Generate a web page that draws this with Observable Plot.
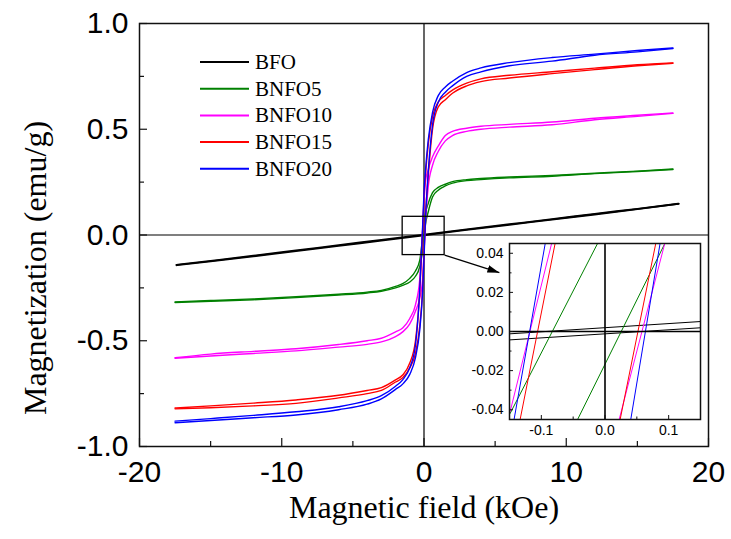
<!DOCTYPE html>
<html>
<head>
<meta charset="utf-8">
<script src="https://cdn.jsdelivr.net/npm/d3@7"></script>
<script src="https://cdn.jsdelivr.net/npm/@observablehq/plot@0.6"></script>
<style>
  html, body { margin: 0; padding: 0; background: #fff; }
  #chart { position: relative; width: 731px; height: 539px; }
  #chart > svg { position: absolute; left: 0; top: 0; }
  #chart > svg.inset { left: 464px; top: 238px; }
</style>
</head>
<body>
<div id="chart"></div>
<script>
// Samples and their colours
const seriesNames = ["BFO", "BNFO5", "BNFO10", "BNFO15", "BNFO20"];
const seriesColors = ["#000000", "#008000", "#ff00ff", "#ff0000", "#0000ff"];

// Applied field (kOe) for the doped samples
const fieldGrid = [-17.5, -15, -12, -9, -6, -4, -3, -2, -1.5, -1, -0.6, -0.3, -0.1, 0,
                   0.1, 0.3, 0.6, 1, 1.5, 2, 3, 4, 6, 9, 12, 15, 17.5];
// Applied field (kOe) for BFO
const bfoField = [-17.4, -15, -12, -9, -6, -3, 0, 3, 6, 9, 12, 15, 17.9];

// Magnetization (emu/g): "Down" = field decreasing branch, "Up" = field increasing branch
const bfoDown = [-0.141, -0.122, -0.098, -0.073, -0.048, -0.023, 0.002, 0.027, 0.051, 0.075, 0.100, 0.124, 0.148];
const bfoUp   = [-0.143, -0.125, -0.101, -0.076, -0.051, -0.027, -0.002, 0.024, 0.048, 0.073, 0.097, 0.122, 0.147];

const bnfo5Down = [-0.316, -0.310, -0.302, -0.292, -0.280, -0.270, -0.262, -0.243, -0.230, -0.205, -0.170, -0.120, -0.011, 0.050,
                   0.100, 0.150, 0.200, 0.225, 0.240, 0.252, 0.262, 0.267, 0.274, 0.282, 0.292, 0.302, 0.312];
const bnfo5Up   = [-0.319, -0.313, -0.306, -0.296, -0.284, -0.274, -0.266, -0.250, -0.238, -0.222, -0.195, -0.150, -0.075, -0.019,
                   0.048, 0.110, 0.180, 0.212, 0.232, 0.245, 0.257, 0.262, 0.270, 0.278, 0.290, 0.300, 0.310];

const bnfo10Down = [-0.580, -0.563, -0.550, -0.538, -0.518, -0.500, -0.488, -0.458, -0.440, -0.395, -0.330, -0.210, 0.024, 0.156,
                    0.250, 0.310, 0.370, 0.420, 0.470, 0.490, 0.505, 0.514, 0.523, 0.534, 0.552, 0.566, 0.577];
const bnfo10Up   = [-0.583, -0.572, -0.560, -0.548, -0.530, -0.517, -0.505, -0.480, -0.458, -0.420, -0.360, -0.300, -0.210, -0.080,
                    0.055, 0.230, 0.330, 0.395, 0.445, 0.470, 0.490, 0.500, 0.510, 0.521, 0.545, 0.561, 0.575];

const bnfo15Down = [-0.818, -0.808, -0.795, -0.780, -0.758, -0.735, -0.722, -0.685, -0.662, -0.605, -0.500, -0.270, 0.012, 0.180,
                    0.280, 0.430, 0.560, 0.628, 0.660, 0.685, 0.718, 0.738, 0.755, 0.772, 0.789, 0.805, 0.814];
const bnfo15Up   = [-0.822, -0.817, -0.808, -0.796, -0.770, -0.750, -0.735, -0.695, -0.675, -0.628, -0.560, -0.430, -0.260, -0.090,
                    0.085, 0.280, 0.500, 0.605, 0.640, 0.670, 0.705, 0.725, 0.742, 0.763, 0.782, 0.800, 0.812];

const bnfo20Down = [-0.880, -0.868, -0.853, -0.836, -0.812, -0.783, -0.760, -0.715, -0.685, -0.627, -0.520, -0.260, 0.035, 0.200,
                    0.300, 0.450, 0.580, 0.659, 0.700, 0.727, 0.768, 0.790, 0.815, 0.839, 0.855, 0.872, 0.884];
const bnfo20Up   = [-0.888, -0.877, -0.864, -0.851, -0.826, -0.800, -0.775, -0.730, -0.705, -0.659, -0.580, -0.450, -0.270, -0.110,
                    0.065, 0.300, 0.520, 0.627, 0.675, 0.705, 0.750, 0.771, 0.800, 0.822, 0.850, 0.866, 0.882];

// Low-field detail (field kOe, magnetization emu/g) near the origin
const insetBfoDown    = [[-0.15, -0.0012], [0.15, 0.0051]];
const insetBfoUp      = [[-0.15, -0.0043], [0.15, 0.0019]];
const insetBnfo5Down  = [[-0.149, -0.0419], [-0.012, 0.0448]];
const insetBnfo5Up    = [[-0.0435, -0.0453], [0.0937, 0.0448]];
const insetBnfo10Down = [[-0.149, -0.0410], [-0.084, 0.0448]];
const insetBnfo10Up   = [[0.022, -0.0453], [0.0937, 0.0448]];
const insetBnfo15Down = [[-0.1335, -0.0453], [-0.0785, 0.0448]];
const insetBnfo15Up   = [[0.0236, -0.0453], [0.0796, 0.0448]];
const insetBnfo20Down = [[-0.143, -0.0453], [-0.094, 0.0448]];
const insetBnfo20Up   = [[0.0403, -0.0453], [0.0864, 0.0448]];

// Ticks
const xMajor = [-20, -10, 0, 10, 20];
const xMinor = [-15, -5, 5, 15];
const yMajor = [-1, -0.5, 0, 0.5, 1];
const yMinor = [-0.75, -0.25, 0.25, 0.75];
const insetXMajor = [-0.1, 0, 0.1];
const insetXMinor = [-0.05, 0.05];
const insetYMajor = [-0.04, -0.02, 0, 0.02, 0.04];
const insetYMinor = [-0.03, -0.01, 0.01, 0.03];

// Zoom window around the origin and the pointer to the inset
const zoomBox = [{x1: -1.5, x2: 1.45, y1: -0.095, y2: 0.086}];
const zoomArrow = [{x1: 1.45, y1: -0.095, x2: 5.3, y2: -0.178}];

const SANS = "'Liberation Sans', Arial, sans-serif";
const SERIF = "'Liberation Serif', 'Times New Roman', serif";

function branchRows(name, field, down, up) {
  return [
    ...field.map((h, i) => ({series: name, branch: "down", h, m: down[i]})),
    ...field.map((h, i) => ({series: name, branch: "up", h, m: up[i]}))
  ];
}
function segmentRows(name, branch, pts) {
  return pts.map(([h, m]) => ({series: name, branch, h, m}));
}

const bfoLoop = branchRows("BFO", bfoField, bfoDown, bfoUp);
const dopedLoops = [
  branchRows("BNFO5", fieldGrid, bnfo5Down, bnfo5Up),
  branchRows("BNFO10", fieldGrid, bnfo10Down, bnfo10Up),
  branchRows("BNFO15", fieldGrid, bnfo15Down, bnfo15Up),
  branchRows("BNFO20", fieldGrid, bnfo20Down, bnfo20Up)
].flat();

const insetRows = [
  segmentRows("BFO", "down", insetBfoDown), segmentRows("BFO", "up", insetBfoUp),
  segmentRows("BNFO5", "down", insetBnfo5Down), segmentRows("BNFO5", "up", insetBnfo5Up),
  segmentRows("BNFO10", "down", insetBnfo10Down), segmentRows("BNFO10", "up", insetBnfo10Up),
  segmentRows("BNFO15", "down", insetBnfo15Down), segmentRows("BNFO15", "up", insetBnfo15Up),
  segmentRows("BNFO20", "down", insetBnfo20Down), segmentRows("BNFO20", "up", insetBnfo20Up)
].flat();

const color = {domain: seriesNames, range: seriesColors};

// Inward ticks: a tick spans the whole frame, minus an inset that leaves `len` pixels at the axis
function ticksBottom(values, frameH, len, sw) {
  return Plot.tickX(values, {x: d => d, insetTop: frameH - len, stroke: "#111", strokeWidth: sw});
}
function ticksLeft(values, frameW, len, sw) {
  return Plot.tickY(values, {y: d => d, insetRight: frameW - len, stroke: "#111", strokeWidth: sw});
}

// Main panel geometry
const M = {width: 731, height: 539, left: 139, right: 23, top: 23, bottom: 93};
const frameW = M.width - M.left - M.right;
const frameH = M.height - M.top - M.bottom;

const main = Plot.plot({
  width: M.width,
  height: M.height,
  marginLeft: M.left,
  marginRight: M.right,
  marginTop: M.top,
  marginBottom: M.bottom,
  style: {background: "white", overflow: "visible"},
  x: {domain: [-20, 20], axis: null},
  y: {domain: [-1, 1], axis: null},
  color,
  marks: [
    Plot.ruleX([0], {stroke: "black", strokeWidth: 1.2}),
    Plot.ruleY([0], {stroke: "black", strokeWidth: 1.2}),
    Plot.line(bfoLoop, {x: "h", y: "m", z: "branch", stroke: "series", strokeWidth: 1.8, curve: "monotone-x"}),
    Plot.line(dopedLoops, {x: "h", y: "m", z: d => d.series + "-" + d.branch, stroke: "series",
                           strokeWidth: 1.4, curve: "monotone-x"}),
    Plot.rect(zoomBox, {x1: "x1", x2: "x2", y1: "y1", y2: "y2", fill: "none", stroke: "black", strokeWidth: 1.3}),
    Plot.link(zoomArrow, {x1: "x1", y1: "y1", x2: "x2", y2: "y2", stroke: "black", strokeWidth: 1.3}),
    ticksBottom(xMajor, frameH, 8, 1.2),
    ticksBottom(xMinor, frameH, 5, 1.2),
    ticksLeft(yMajor, frameW, 8, 1.2),
    ticksLeft(yMinor, frameW, 5, 1.2),
    Plot.text(xMajor, {x: d => d, frameAnchor: "bottom", lineAnchor: "top", dy: 14, text: d => String(d),
                       fontSize: 30, fontFamily: SANS, fill: "black"}),
    Plot.text(yMajor, {y: d => d, frameAnchor: "left", textAnchor: "end", dx: -11, text: d => d.toFixed(1),
                       fontSize: 30, fontFamily: SANS, fill: "black"}),
    Plot.frame({stroke: "#111", strokeWidth: 1.5}),
    Plot.text(["Magnetic field (kOe)"], {text: d => d, frameAnchor: "bottom", dy: 71,
                                        fontSize: 32, fontFamily: SERIF, fill: "black"}),
    Plot.text(["Magnetization (emu/g)"], {text: d => d, frameAnchor: "left", textAnchor: "middle", rotate: -90,
                                         dx: -104, dy: 33, fontSize: 32, fontFamily: SERIF, fill: "black"})
  ]
});

// Filled arrowhead for the pointer to the inset
const svg = d3.select(main);
svg.append("defs").append("marker")
  .attr("id", "inset-arrowhead")
  .attr("viewBox", "0 0 12 10")
  .attr("refX", 12).attr("refY", 5)
  .attr("markerWidth", 12).attr("markerHeight", 10)
  .attr("markerUnits", "userSpaceOnUse")
  .attr("orient", "auto")
  .append("path").attr("d", "M0,1.2L12,5L0,8.8Z").attr("fill", "black");
svg.selectAll('g[aria-label="link"] path').attr("marker-end", "url(#inset-arrowhead)");

// Legend in the upper-left of the frame
const legend = svg.append("g").attr("class", "legend").attr("text-anchor", "start");
seriesNames.forEach((name, i) => {
  const y = 62 + i * 26.7;
  legend.append("line").attr("x1", 200).attr("x2", 249).attr("y1", y).attr("y2", y)
    .attr("stroke", seriesColors[i]).attr("stroke-width", 2);
  legend.append("text").attr("x", 255).attr("y", y + 6.8).text(name)
    .attr("text-anchor", "start")
    .attr("font-family", SERIF).attr("font-size", 21).attr("fill", "black");
});

// Low-field inset
const N = {width: 241, height: 203, left: 45, right: 5, top: 5, bottom: 22};
const insetW = N.width - N.left - N.right;
const insetH = N.height - N.top - N.bottom;

const inset = Plot.plot({
  width: N.width,
  height: N.height,
  marginLeft: N.left,
  marginRight: N.right,
  marginTop: N.top,
  marginBottom: N.bottom,
  style: {background: "transparent", overflow: "visible"},
  x: {domain: [-0.15, 0.15], axis: null},
  y: {domain: [-0.045, 0.045], axis: null},
  color,
  marks: [
    Plot.frame({fill: "white"}),
    Plot.line(insetRows, {x: "h", y: "m", z: d => d.series + "-" + d.branch, stroke: "series", strokeWidth: 1, clip: true}),
    Plot.ruleX([0], {stroke: "black", strokeWidth: 1.6}),
    Plot.ruleY([0], {stroke: "black", strokeWidth: 1.6}),
    ticksBottom(insetXMajor, insetH, 4, 1),
    ticksBottom(insetXMinor, insetH, 2.5, 1),
    ticksLeft(insetYMajor, insetW, 4, 1),
    ticksLeft(insetYMinor, insetW, 2.5, 1),
    Plot.text(insetXMajor, {x: d => d, frameAnchor: "bottom", lineAnchor: "top", dy: 6, text: d => d.toFixed(1),
                            fontSize: 14, fontFamily: SANS, fill: "black"}),
    Plot.text(insetYMajor, {y: d => d, frameAnchor: "left", textAnchor: "end", dx: -6, text: d => d.toFixed(2),
                            fontSize: 14, fontFamily: SANS, fill: "black"}),
    Plot.frame({stroke: "#111", strokeWidth: 1.5})
  ]
});
inset.classList.add("inset");

const chart = document.getElementById("chart");
chart.appendChild(main);
chart.appendChild(inset);
</script>
</body>
</html>
